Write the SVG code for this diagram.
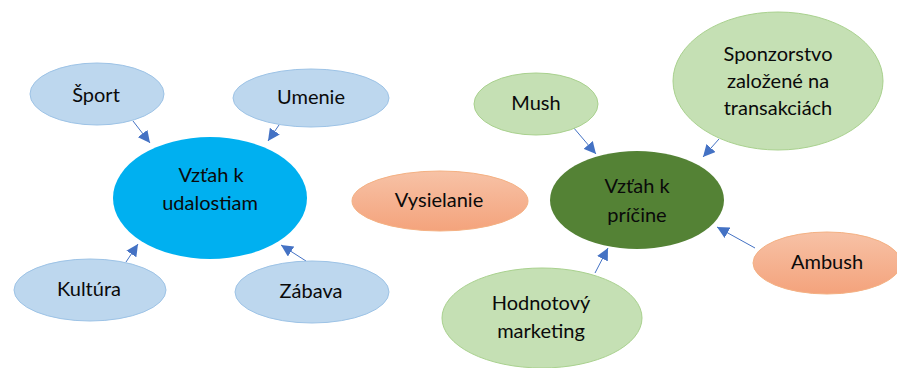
<svg xmlns="http://www.w3.org/2000/svg" width="897" height="368" viewBox="0 0 897 368">
<defs>
<linearGradient id="og" x1="0" y1="0" x2="0" y2="1">
<stop offset="0" stop-color="#F7C2A6"/>
<stop offset="1" stop-color="#F4A37C"/>
</linearGradient>
<marker id="ah" viewBox="0 0 10 10" refX="10" refY="5" markerWidth="12" markerHeight="12" markerUnits="userSpaceOnUse" orient="auto">
<path d="M0,0 L10,5 L0,10 Z" fill="#4472C4"/>
</marker>
<style>
text{font-family:Lato,"Liberation Sans",sans-serif;font-size:20px;fill:#0a0a0a;text-anchor:middle}
.lb{fill:#BDD7EE;stroke:#9DC3E6;stroke-width:1}
.mb{fill:#00B0F0}
.lg{fill:#C5E0B4;stroke:#A9D18E;stroke-width:1}
.dg{fill:#548235}
.or{fill:url(#og);stroke:#F4B183;stroke-width:1}
.c line{stroke:#4472C4;stroke-width:1;marker-end:url(#ah)}
</style>
</defs>
<rect width="897" height="368" fill="#fff"/>
<g class="c">
<line x1="133" y1="121" x2="150" y2="143"/>
<line x1="279" y1="125" x2="268" y2="141"/>
<line x1="126" y1="262" x2="138" y2="244"/>
<line x1="306" y1="261" x2="281" y2="245"/>
<line x1="573" y1="127" x2="596" y2="154"/>
<line x1="719" y1="139" x2="703" y2="157"/>
<line x1="755" y1="248" x2="717" y2="227"/>
<line x1="595" y1="273" x2="608" y2="248"/>
</g>
<g id="sport"><ellipse class="lb" cx="97" cy="94" rx="67" ry="31"/><text x="96" y="102">Šport</text></g>
<g id="umenie"><ellipse class="lb" cx="311" cy="98" rx="78" ry="29"/><text x="311" y="104">Umenie</text></g>
<g id="udalosti"><ellipse class="mb" cx="210" cy="198" rx="97" ry="61"/><text x="211" y="182">Vzťah k</text><text x="210" y="210">udalostiam</text></g>
<g id="kultura"><ellipse class="lb" cx="90" cy="290" rx="76" ry="31"/><text x="89" y="296">Kultúra</text></g>
<g id="zabava"><ellipse class="lb" cx="312" cy="292" rx="77" ry="31"/><text x="311" y="298">Zábava</text></g>
<g id="vysielanie"><ellipse class="or" cx="440" cy="201" rx="88" ry="30"/><text x="439" y="207">Vysielanie</text></g>
<g id="mush"><ellipse class="lg" cx="536" cy="104" rx="62" ry="31"/><text x="536" y="110">Mush</text></g>
<g id="sponzorstvo"><ellipse class="lg" cx="778" cy="81" rx="105" ry="69"/><text x="778" y="61">Sponzorstvo</text><text x="778" y="88">založené na</text><text x="778" y="115">transakciách</text></g>
<g id="pricina"><ellipse class="dg" cx="637" cy="200" rx="87" ry="49"/><text x="637" y="193">Vzťah k</text><text x="637" y="222">príčine</text></g>
<g id="ambush"><ellipse class="or" cx="827" cy="263" rx="74" ry="31"/><text x="827" y="269">Ambush</text></g>
<g id="hodnotovy"><ellipse class="lg" cx="542" cy="318" rx="100" ry="50"/><text x="541" y="310">Hodnotový</text><text x="541" y="338">marketing</text></g>
</svg>
